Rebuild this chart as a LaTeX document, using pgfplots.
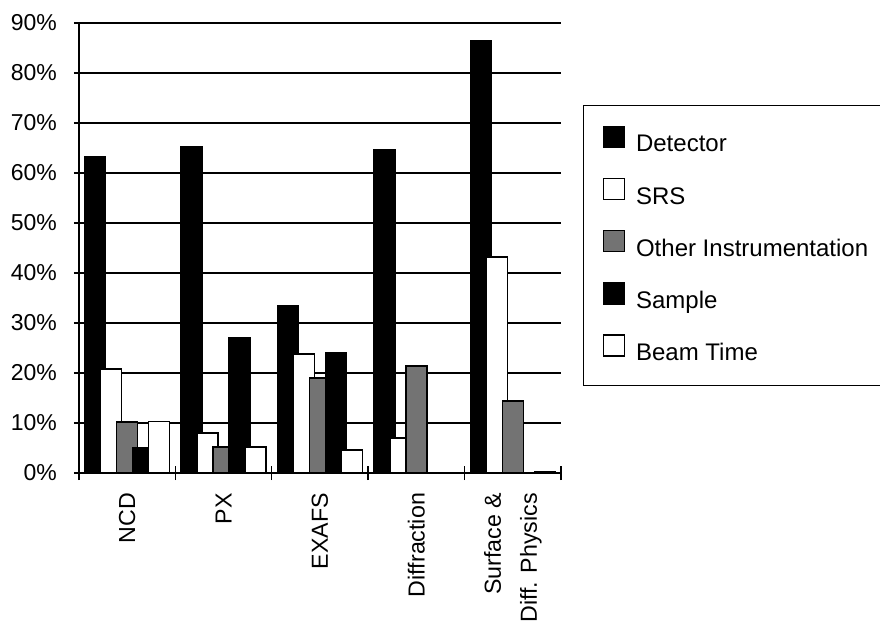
\documentclass[border=0pt]{standalone}
\usepackage{fontspec}
\setmainfont{Liberation Sans}
\usepackage{pgfplots}
\pgfplotsset{compat=1.18}
\begin{document}
\begin{tikzpicture}
\path[use as bounding box] (0,0) rectangle (440pt,311.5pt);
\begin{axis}[
  at={(39.5pt,75pt)}, anchor=south west,
  scale only axis, width=241pt, height=225pt,
  xmin=-0.5, xmax=4.5, ymin=0, ymax=90,
  enlargelimits=false,
  axis lines*=left,
  axis line style={line width=0.7pt},
  ybar=-2.5pt, bar width=10.5pt,
  xtick={0,1,2,3,4},
  xticklabels={NCD,PX,EXAFS,Diffraction,{Surface \&\\Diff. Physics}},
  major x tick style={draw=none},
  minor xtick={-0.5,0.5,1.5,2.5,3.5,4.5},
  minor x tick style={line width=0.7pt, black},
  minor tick length=7pt,
  major tick length=5pt,
  tick align=center,
  ytick={0,10,...,90},
  yticklabels={0\%,10\%,20\%,30\%,40\%,50\%,60\%,70\%,80\%,90\%},
  y tick style={line width=0.7pt, black},
  ymajorgrids,
  grid style={black, line width=0.7pt},
  xticklabel style={rotate=90, anchor=east, align=right, font=\fontsize{11.6}{18}\selectfont, xshift=-4pt},
  yticklabel style={font=\fontsize{11.5}{13}\selectfont, xshift=-5pt},
  legend cell align=left,
  legend image code/.code={\draw[#1, line width=0.7pt] (0pt,-1pt) rectangle (10.5pt,9.5pt);},
  legend style={at={(1.0456,0.8178)}, anchor=north west, draw=black, line width=0.7pt,
    inner xsep=9.5pt, inner ysep=10pt, row sep=10.5pt, column sep=5.5pt,
    nodes={inner sep=0pt, text height=9pt, text depth=2.5pt},
    font=\fontsize{12}{14}\selectfont},
]
\addplot[fill=black, draw=black, line width=0.7pt] coordinates {(0,63.2) (1,65.2) (2,33.4) (3,64.6) (4,86.4)};
\addlegendentry{\makebox[130pt][l]{Detector}}
\addplot[fill=white, draw=black, line width=0.7pt] coordinates {(0,20.8) (1,8.0) (2,23.8) (3,7.0) (4,43.2)};
\addlegendentry{\makebox[130pt][l]{SRS}}
\addplot[fill=black!55, draw=black, line width=0.7pt] coordinates {(0,10.2) (1,5.2) (2,19.0) (3,21.4) (4,14.4)};
\addlegendentry{\makebox[130pt][l]{Other Instrumentation}}
\addplot[fill=black, draw=black, line width=0.7pt] coordinates {(0,5.0) (1,27.0) (2,24.0) (3,0) (4,0)};
\addlegendentry{\makebox[130pt][l]{Sample}}
\addplot[fill=white, draw=black, line width=0.7pt] coordinates {(0,10.3) (1,5.2) (2,4.6) (3,0) (4,0.3)};
\addlegendentry{\makebox[130pt][l]{Beam Time}}
\end{axis}
\end{tikzpicture}
\end{document}
